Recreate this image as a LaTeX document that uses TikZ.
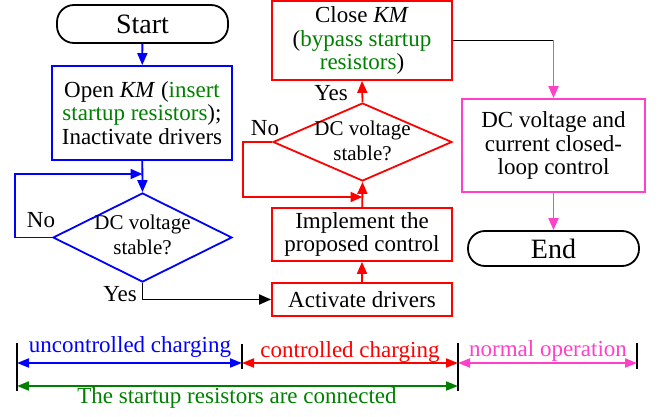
\documentclass[tikz,border=0pt]{standalone}
\usepackage{fontspec}
\setmainfont{Liberation Serif}
\usetikzlibrary{shapes.geometric,arrows.meta}
\definecolor{fcblue}{RGB}{0,0,255}
\definecolor{fcred}{RGB}{255,0,0}
\definecolor{fcgreen}{RGB}{0,128,0}
\definecolor{fcpink}{RGB}{255,64,200}
\tikzset{
  box/.style={draw, line width=1.8pt, align=center, inner sep=0pt,
    font=\fontsize{23}{23.5}\selectfont},
  term/.style={draw=black, line width=1.8pt, rounded corners=17pt, inner sep=0pt,
    font=\fontsize{28}{30}\selectfont},
  dia/.style={draw, diamond, line width=1.8pt, inner sep=0pt},
  dtext/.style={align=center, inner sep=0pt, font=\fontsize{21}{25}\selectfont},
  lbl/.style={inner sep=0pt, font=\fontsize{23}{25}\selectfont},
  conn/.style={line width=1.8pt, -{Triangle[length=12pt,width=10pt]}},
  span/.style={line width=1.8pt, {Triangle[length=12pt,width=9pt]}-{Triangle[length=12pt,width=9pt]}},
  tick/.style={line width=2pt, black},
}
\begin{document}
\begin{tikzpicture}[x=1pt,y=-1pt]
\useasboundingbox (0,0) rectangle (664,417);

% left column: uncontrolled charging
\node[term, minimum width=171pt, minimum height=38pt] (start) at (142.5,24) {Start};
\node[box, draw=fcblue, minimum width=180pt, minimum height=94pt] (open) at (142,113)
  {Open \textit{KM} (\textcolor{fcgreen}{insert}\\
   \textcolor{fcgreen}{startup resistors});\\
   Inactivate drivers};
\node[dia, draw=fcblue, minimum width=179pt, minimum height=89pt] (d1) at (142.5,237.5) {};
\node[dtext] at ([yshift=3pt]d1.center) {DC voltage\\stable?};

% middle column: controlled charging
\node[box, draw=fcred, minimum width=180pt, minimum height=33pt] (act) at (362,299.5) {Activate drivers};
\node[box, draw=fcred, minimum width=180pt, minimum height=53pt] (impl) at (362,234.5)
  {Implement the\\proposed control};
\node[dia, draw=fcred, minimum width=179pt, minimum height=78pt] (d2) at (362.5,142) {};
\node[dtext] at ([yshift=1pt]d2.center) {DC voltage\\stable?};
\node[box, draw=fcred, minimum width=180pt, minimum height=79pt] (close) at (362,40.5)
  {Close \textit{KM}\\
   (\textcolor{fcgreen}{bypass startup}\\
   \textcolor{fcgreen}{resistors})};

% right column: normal operation
\node[box, draw=fcpink, minimum width=183pt, minimum height=93pt] (norm) at (553.5,145.5)
  {DC voltage and\\current closed-\\loop control};
\node[term, minimum width=171pt, minimum height=35pt] (end) at (553.5,248.5) {End};

% connectors
\draw[conn, fcblue] (start) -- (open);
\draw[conn, fcblue] (open) -- (d1.north);
\coordinate (l1) at (15,174);
\draw[conn, fcblue] (d1.west) -| (l1) -- (l1 -| d1.north);
\node[lbl, anchor=base] at (41,227) {No};
\draw[conn, black] (d1.south) |- (act.west);
\node[lbl, anchor=base east] at (137,301) {Yes};

\draw[conn, fcred] (act) -- (impl);
\draw[conn, fcred] (impl) -- (d2.south);
\coordinate (l2) at (243,197);
\draw[conn, fcred] (d2.west) -| (l2) -- (l2 -| d2.south);
\node[lbl, anchor=base] at (265,136) {No};
\draw[conn, fcred] (d2.north) -- (close.south);
\node[lbl, anchor=base] at (331,101) {Yes};

\coordinate (c1) at (close.east -| norm.north);
\draw[line width=1.8pt, black] (close.east) -- (c1);
\draw[conn, fcpink] (c1) -- (norm.north);
\draw[conn, fcpink] (norm) -- (end);

% timeline of the startup phases
\coordinate (t1a) at (17,343);  \coordinate (t1b) at (17,391);
\coordinate (t2a) at (242,344); \coordinate (t2b) at (242,369);
\coordinate (t3a) at (458,343); \coordinate (t3b) at (458,391);
\coordinate (t4a) at (637,343); \coordinate (t4b) at (637,369);
\draw[tick] (t1a) -- (t1b);
\draw[tick] (t2a) -- (t2b);
\draw[tick] (t3a) -- (t3b);
\draw[tick] (t4a) -- (t4b);
\draw[span, fcblue] (t1a |- 0,363) -- (t2a |- 0,363);
\draw[span, fcred] (t2a |- 0,363) -- (t3a |- 0,363);
\draw[span, fcpink] (t3a |- 0,363) -- (t4a |- 0,363);
\draw[span, fcgreen] (t1a |- 0,386) -- (t3a |- 0,386);
\node[lbl, anchor=base, text=fcblue] at (130,352) {uncontrolled charging};
\node[lbl, anchor=base, text=fcred] at (350,357) {controlled charging};
\node[lbl, anchor=base, text=fcpink] at (548,356) {normal operation};
\node[lbl, anchor=base, text=fcgreen] at (237,403) {The startup resistors are connected};
\end{tikzpicture}
\end{document}
